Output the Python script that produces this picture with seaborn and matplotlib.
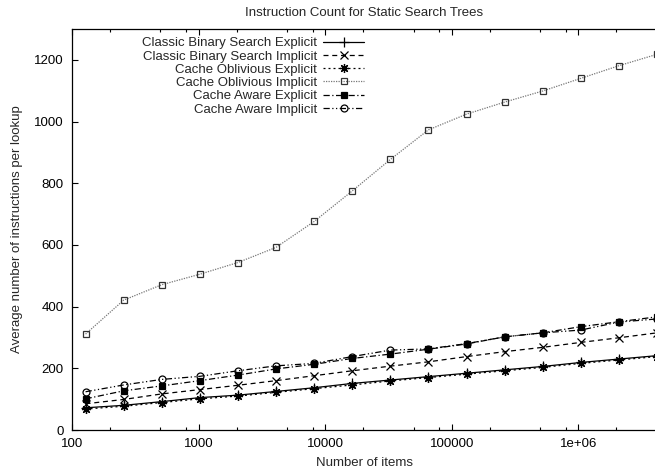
import matplotlib
matplotlib.use("Agg")
import matplotlib.pyplot as plt
import seaborn as sns
from matplotlib.ticker import FixedLocator, LogLocator, NullFormatter, NullLocator

# number of items per search tree (x values)
sizes = [128, 256, 512, 1024, 2048, 4096, 8192, 16384, 32768, 65536,
         131072, 262144, 524288, 1048576, 2097152, 4194304]

# average instructions per lookup
classic_explicit = [72, 80, 92, 105, 113, 125, 137, 151, 162, 173, 184, 195, 206, 219, 230, 241]
classic_implicit = [85, 99, 117, 131, 145, 160, 176, 192, 207, 221, 238, 254, 268, 284, 299, 315]
oblivious_explicit = [68, 77, 89, 101, 110, 122, 134, 146, 159, 170, 181, 192, 203, 216, 227, 238]
oblivious_implicit = [311, 421, 471, 505, 543, 592, 676, 775, 877, 973, 1024, 1063, 1099, 1140, 1181, 1218]
aware_explicit = [101, 127, 143, 160, 178, 198, 213, 232, 246, 262, 279, 302, 315, 335, 351, 367]
aware_implicit = [124, 146, 164, 174, 192, 208, 216, 238, 259, 263, 280, 302, 315, 324, 350, 360]

series_labels = [
    "Classic Binary Search Explicit",
    "Classic Binary Search Implicit",
    "Cache Oblivious Explicit",
    "Cache Oblivious Implicit",
    "Cache Aware Explicit",
    "Cache Aware Implicit",
]
series_values = [classic_explicit, classic_implicit, oblivious_explicit,
                 oblivious_implicit, aware_explicit, aware_implicit]

xtick_values = [100, 1000, 10000, 100000, 1000000]
xtick_labels = ["100", "1000", "10000", "100000", "1e+06"]
ytick_values = [0, 200, 400, 600, 800, 1000, 1200]

# gnuplot-like monochrome styles: (linestyle, marker, markersize, line colour, marker face)
styles = [
    ("-", "+", 6.5, "black", "none"),
    ((0, (4, 3)), "x", 5.5, "black", "none"),
    ((0, (1.6, 2.4)), (8, 2, 0), 6.5, "black", "none"),
    ((0, (1, 1)), "s", 5, "#777777", "none"),
    ((0, (5, 2, 1, 2)), "s", 4.5, "black", "black"),
    ((0, (5, 2, 1, 2, 1, 2)), "o", 5, "black", "none"),
]

sns.set_style("ticks")
plt.rcParams["font.family"] = ["Liberation Sans", "DejaVu Sans"]
FS = 9.5

fig = plt.figure(figsize=(6.55, 4.73), dpi=100)
# right edge sits just past the image border, as in the original
ax = fig.add_axes([72 / 655, 1 - 430 / 473, 585 / 655, 401 / 473])

for label, values, (ls, marker, ms, color, face) in zip(series_labels, series_values, styles):
    sns.lineplot(x=sizes, y=values, ax=ax, label=label, color=color, linestyle=ls,
                 linewidth=0.9, marker=marker, markersize=ms,
                 markeredgecolor="black" if color == "black" else "#333333",
                 markerfacecolor=face, markeredgewidth=0.9)

ax.set_xscale("log")
ax.set_xlim(100, 4194304)
ax.set_ylim(0, 1300)
ax.xaxis.set_major_locator(FixedLocator(xtick_values))
ax.set_xticklabels(xtick_labels)
ax.xaxis.set_minor_locator(LogLocator(base=10, subs=(2, 5, 8)))
ax.xaxis.set_minor_formatter(NullFormatter())
ax.set_yticks(ytick_values)
ax.yaxis.set_minor_locator(NullLocator())

for spine in ax.spines.values():
    spine.set_color("black")
    spine.set_linewidth(0.9)
ax.tick_params(which="both", direction="in", top=True, right=False, color="black",
               labelcolor="black", labelsize=FS, width=0.8)
ax.tick_params(which="major", length=4.5)
ax.tick_params(which="minor", length=2.5)
ax.tick_params(axis="x", pad=6)
ax.tick_params(axis="y", pad=6)

ax.set_title("Instruction Count for Static Search Trees", fontsize=FS, pad=9)
ax.set_xlabel("Number of items", fontsize=FS, labelpad=5)
ax.set_ylabel("Average number of instructions per lookup", fontsize=FS, labelpad=8)

ax.legend(loc="upper right", bbox_to_anchor=(364 / 655, 1 - 37 / 473),
          bbox_transform=fig.transFigure, frameon=False, markerfirst=False,
          handlelength=3.1, handletextpad=0.45, labelspacing=0.08,
          borderpad=0, borderaxespad=0, fontsize=FS, numpoints=1)

fig.savefig("out.png", dpi=100)
